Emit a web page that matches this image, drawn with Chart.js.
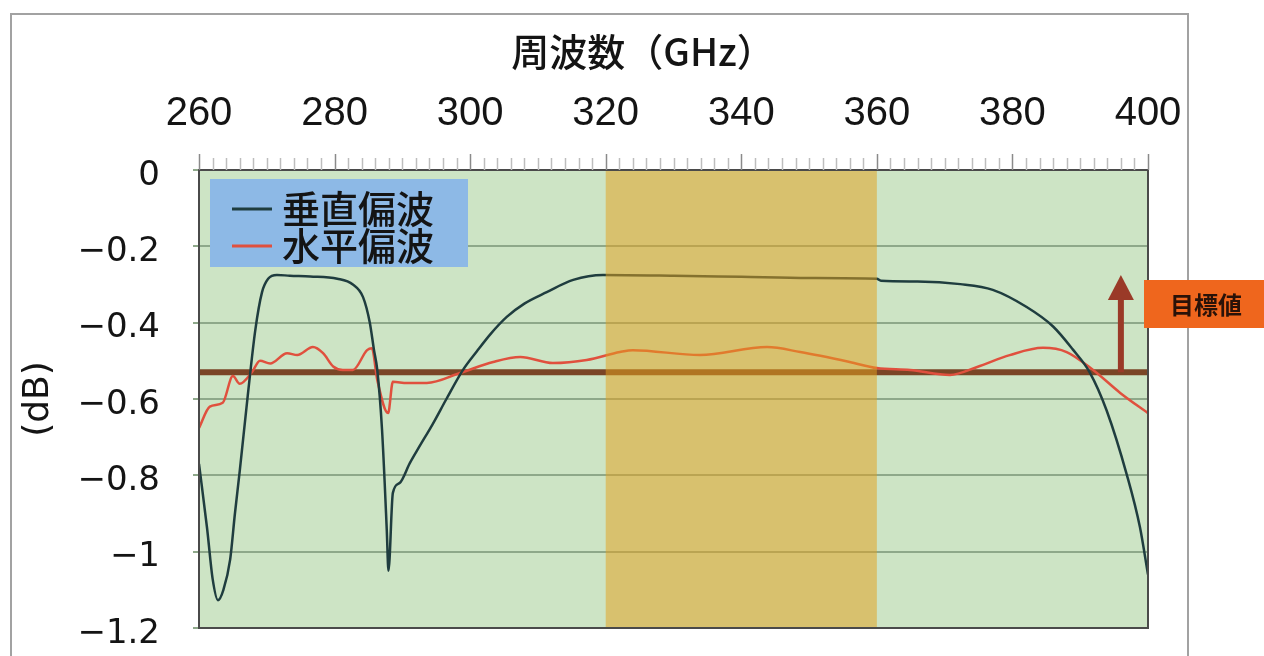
<!DOCTYPE html>
<html>
<head>
<meta charset="utf-8">
<script src="https://cdn.jsdelivr.net/npm/chart.js@4/dist/chart.umd.min.js"></script>
<style>
  html, body { margin: 0; padding: 0; background: #fff; }
  canvas { display: block; }
</style>
</head>
<body>
<canvas id="grafico" width="1264" height="656"></canvas>
<script>
// 垂直偏波 (周波数 GHz, 損失 dB)
const freqV = [260, 261.2, 262, 262.8, 263.6, 264.6, 265.3, 266, 267.2, 268.3, 269.3, 270.2, 271.5, 273.4, 276.4, 280.4, 282.7, 284.2, 285.2, 285.8, 286.3, 287, 287.7, 287.95, 288.6, 289.6, 291.1, 292.5, 294.5, 296.5, 298.9, 301, 303, 305.4, 308, 311.3, 315.2, 319.6, 330, 340, 350, 360, 360.6, 366, 372.3, 377.1, 382.1, 386, 388.9, 391.4, 393.9, 396.9, 398.8, 400];
const lossV = [-0.77, -0.94, -1.07, -1.127, -1.1, -1.02, -0.9, -0.79, -0.59, -0.42, -0.32, -0.285, -0.275, -0.277, -0.279, -0.285, -0.3, -0.333, -0.4, -0.47, -0.524, -0.68, -0.943, -1.05, -0.846, -0.82, -0.768, -0.725, -0.665, -0.6, -0.525, -0.475, -0.43, -0.385, -0.35, -0.32, -0.288, -0.275, -0.277, -0.28, -0.283, -0.285, -0.29, -0.292, -0.299, -0.314, -0.359, -0.41, -0.47, -0.53, -0.63, -0.8, -0.935, -1.06];
// 水平偏波
const freqH = [260, 261.6, 263.5, 265, 266, 267.8, 269, 270.5, 273, 274.5, 276.8, 278.3, 279.8, 281.2, 282.7, 284.8, 285.5, 286.3, 287.9, 288.6, 290.7, 293.6, 298.5, 303.4, 307.4, 312.2, 317.2, 322.1, 324, 333.9, 343.8, 348.7, 356, 360, 364.9, 370.8, 374.8, 379.6, 384.5, 388, 391.9, 395.9, 400];
const lossH = [-0.676, -0.62, -0.61, -0.54, -0.56, -0.53, -0.5, -0.507, -0.48, -0.485, -0.464, -0.48, -0.515, -0.524, -0.524, -0.472, -0.467, -0.55, -0.637, -0.555, -0.558, -0.558, -0.532, -0.503, -0.49, -0.506, -0.498, -0.477, -0.472, -0.485, -0.464, -0.477, -0.503, -0.519, -0.524, -0.537, -0.516, -0.485, -0.466, -0.477, -0.524, -0.584, -0.637];

const TARGET = -0.53;          // 目標値
const ARROW_AT = 396, ARROW_TIP = -0.275;
const BAND = [320, 360];       // 強調帯域
const X_RANGE = [260, 400], Y_RANGE = [-1.2, 0];

const pts = (xs, ys) => xs.map((x, i) => ({ x, y: ys[i] }));
const fmtDb = (v) => { const r = Math.round(v * 10) / 10; return r === 0 ? '0' : '\u2212' + Math.abs(r); };
const CJK = '"Noto Sans CJK JP", "Noto Sans CJK SC", sans-serif';

const deco = {
  id: 'deco',
  beforeDraw(chart) {
    const { ctx, chartArea: a } = chart;
    ctx.save();
    ctx.fillStyle = '#fff';
    ctx.fillRect(0, 0, chart.width, chart.height);
    // 外枠
    ctx.strokeStyle = '#a2a2a2'; ctx.lineWidth = 2;
    ctx.beginPath();
    ctx.moveTo(11, 656); ctx.lineTo(11, 14); ctx.lineTo(1188, 14); ctx.lineTo(1188, 656);
    ctx.stroke();
    ctx.fillStyle = '#cde4c5';
    ctx.fillRect(a.left, a.top, a.right - a.left, a.bottom - a.top);
    ctx.restore();
  },
  afterDatasetsDraw(chart) {
    const { ctx, chartArea: a, scales: { x, y } } = chart;
    ctx.save();
    // 帯域
    const b0 = x.getPixelForValue(BAND[0]), b1 = x.getPixelForValue(BAND[1]);
    ctx.fillStyle = 'rgba(226,162,30,0.52)';
    ctx.fillRect(b0, a.top, b1 - b0, a.bottom - a.top);

    // 矢印
    const ax = x.getPixelForValue(ARROW_AT), yb = y.getPixelForValue(TARGET), yt = y.getPixelForValue(ARROW_TIP);
    ctx.strokeStyle = '#9a3a28'; ctx.fillStyle = '#9a3a28'; ctx.lineWidth = 6;
    ctx.beginPath(); ctx.moveTo(ax, yb); ctx.lineTo(ax, yt + 22); ctx.stroke();
    ctx.beginPath(); ctx.moveTo(ax - 13, yt + 25); ctx.lineTo(ax + 13, yt + 25); ctx.lineTo(ax, yt); ctx.closePath(); ctx.fill();

    // 凡例
    ctx.fillStyle = '#8db9e6';
    ctx.fillRect(210, 179, 258, 88);
    const ds = chart.data.datasets;
    [0, 1].forEach((i, k) => {
      const cy = 209 + k * 37;
      ctx.strokeStyle = ds[i].borderColor; ctx.lineWidth = 3;
      ctx.beginPath(); ctx.moveTo(232, cy); ctx.lineTo(272, cy); ctx.stroke();
      ctx.fillStyle = '#141414';
      ctx.font = '500 38px ' + CJK;
      ctx.textAlign = 'left'; ctx.textBaseline = 'middle';
      ctx.fillText(ds[i].label, 282, cy);
    });

    // 枠線
    ctx.strokeStyle = '#4a4a4a'; ctx.lineWidth = 2;
    ctx.strokeRect(a.left, a.top, a.right - a.left, a.bottom - a.top);

    // 上側の目盛り
    for (let f = X_RANGE[0]; f <= X_RANGE[1]; f += 2) {
      const px = Math.round(x.getPixelForValue(f)) + 0.5, major = f % 20 === 0;
      ctx.strokeStyle = major ? '#8a8a8a' : '#bdbdbd'; ctx.lineWidth = 1.5;
      ctx.beginPath(); ctx.moveTo(px, a.top); ctx.lineTo(px, a.top - (major ? 16 : 12)); ctx.stroke();
    }

    // 軸タイトル
    ctx.fillStyle = '#141414';
    ctx.font = '500 38px ' + CJK;
    ctx.textAlign = 'center'; ctx.textBaseline = 'middle';
    ctx.fillText('周波数（GHz）', 643, 52);

    // 目標値ラベル
    ctx.fillStyle = '#ef661d';
    ctx.fillRect(1144, 280, 120, 48);
    ctx.fillStyle = '#2a1208';
    ctx.font = 'bold 24px ' + CJK;
    ctx.fillText('目標値', 1206, 305);
    ctx.restore();
  }
};

new Chart(document.getElementById('grafico'), {
  type: 'line',
  data: {
    datasets: [
      { label: '垂直偏波', data: pts(freqV, lossV), borderColor: '#1f3d3f', borderWidth: 2.5 },
      { label: '水平偏波', data: pts(freqH, lossH), borderColor: '#e0503e', borderWidth: 2.5 },
      { label: '目標値', data: pts(X_RANGE, [TARGET, TARGET]), borderColor: '#7a4526', borderWidth: 6 },
    ],
  },
  options: {
    responsive: false, animation: false, devicePixelRatio: 1,
    layout: { padding: { left: 0, top: 0, right: 116, bottom: 28 } },
    plugins: { legend: { display: false }, tooltip: { enabled: false } },
    elements: { point: { radius: 0 }, line: { cubicInterpolationMode: 'monotone' } },
    scales: {
      x: {
        type: 'linear', position: 'top', min: X_RANGE[0], max: X_RANGE[1],
        ticks: { stepSize: 20, padding: 32, autoSkip: false, maxRotation: 0, color: '#141414',
          font: { family: '"Liberation Sans", Arial, sans-serif', size: 40 } },
        grid: { display: false, drawTicks: false }, border: { display: false },
        afterFit: (s) => { s.height = 170; s.paddingLeft = 0; s.paddingRight = 0; },
      },
      y: {
        min: Y_RANGE[0], max: Y_RANGE[1],
        ticks: { stepSize: 0.2, padding: 33, labelOffset: 6, color: '#141414', callback: fmtDb,
          font: { family: '"DejaVu Sans", sans-serif', size: 34 } },
        grid: { color: '#8ea88a', lineWidth: 2, tickLength: 6 }, border: { display: false },
        title: { display: true, text: '(dB)', color: '#141414', padding: { top: 17 },
          font: { family: '"DejaVu Sans", sans-serif', size: 36 } },
        afterFit: (s) => { s.width = 199; s.paddingTop = 0; s.paddingBottom = 0; },
      },
    },
  },
  plugins: [deco],
});
</script>
</body>
</html>
